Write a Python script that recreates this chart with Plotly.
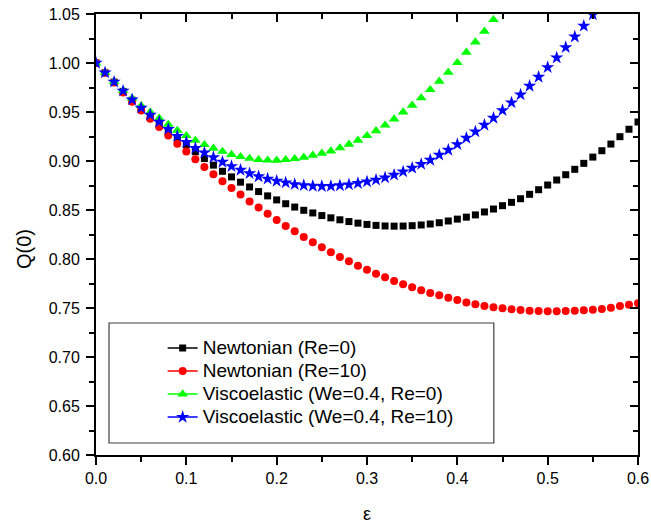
import plotly.graph_objects as go

# Dimensionless parameter epsilon
eps = [0.00, 0.01, 0.02, 0.03, 0.04, 0.05, 0.06, 0.07, 0.08, 0.09,
       0.10, 0.11, 0.12, 0.13, 0.14, 0.15, 0.16, 0.17, 0.18, 0.19,
       0.20, 0.21, 0.22, 0.23, 0.24, 0.25, 0.26, 0.27, 0.28, 0.29,
       0.30, 0.31, 0.32, 0.33, 0.34, 0.35, 0.36, 0.37, 0.38, 0.39,
       0.40, 0.41, 0.42, 0.43, 0.44, 0.45, 0.46, 0.47, 0.48, 0.49,
       0.50, 0.51, 0.52, 0.53, 0.54, 0.55, 0.56, 0.57, 0.58, 0.59,
       0.60]

newt_re0 = [1.000, 0.990, 0.9805, 0.971, 0.962, 0.9535, 0.9455, 0.938, 0.9307, 0.9237,
            0.9166, 0.9095, 0.9025, 0.8958, 0.8895, 0.8838, 0.8784, 0.8735, 0.8688, 0.8644,
            0.8603, 0.8564, 0.853, 0.8497, 0.847, 0.8443, 0.842, 0.840, 0.8382, 0.8366,
            0.8353, 0.8343, 0.8337, 0.8335, 0.8336, 0.834, 0.8347, 0.8357, 0.837, 0.8388,
            0.8407, 0.8427, 0.845, 0.848, 0.851, 0.8544, 0.8578, 0.8615, 0.866, 0.8707,
            0.8755, 0.8806, 0.886, 0.8915, 0.8976, 0.904, 0.9105, 0.9173, 0.9248, 0.9324,
            0.9398]

newt_re10 = [1.000, 0.990, 0.980, 0.970, 0.9605, 0.9515, 0.943, 0.9346, 0.926, 0.9176,
             0.9098, 0.9017, 0.8939, 0.8864, 0.8793, 0.8725, 0.8658, 0.8588, 0.8525, 0.8462,
             0.8398, 0.8337, 0.8282, 0.8224, 0.817, 0.8119, 0.8068, 0.802, 0.7976, 0.7932,
             0.7891, 0.785, 0.7813, 0.7776, 0.7742, 0.7711, 0.768, 0.7653, 0.7629, 0.7605,
             0.7581, 0.7556, 0.7538, 0.752, 0.7507, 0.7497, 0.7487, 0.748, 0.7473, 0.747,
             0.7466, 0.7466, 0.747, 0.7473, 0.7477, 0.7483, 0.749, 0.7503, 0.752, 0.7534,
             0.7548]

visco_re0 = [1.000, 0.9905, 0.981, 0.972, 0.964, 0.9565, 0.950, 0.9435, 0.9373, 0.9312,
             0.9258, 0.921, 0.9166, 0.9129, 0.9098, 0.9066, 0.9044, 0.9026, 0.9014, 0.9008,
             0.9007, 0.9013, 0.9024, 0.9038, 0.9058, 0.9079, 0.9102, 0.9133, 0.917, 0.9211,
             0.9258, 0.9308, 0.9366, 0.9428, 0.950, 0.9568, 0.9643, 0.9728, 0.9813, 0.9905,
             1.0003, 1.0109, 1.0214, 1.0323, 1.0442]

visco_re10 = [1.000, 0.9902, 0.9807, 0.9715, 0.9627, 0.9542, 0.9471, 0.940, 0.9325, 0.9254,
              0.9193, 0.9132, 0.9085, 0.9037, 0.899, 0.8946, 0.8908, 0.8873, 0.8842, 0.8818,
              0.8796, 0.8779, 0.8762, 0.8752, 0.8745, 0.8742, 0.8744, 0.875, 0.8759, 0.8773,
              0.8789, 0.8807, 0.883, 0.8858, 0.8891, 0.8929, 0.8968, 0.901, 0.9062, 0.9112,
              0.917, 0.9235, 0.9299, 0.9367, 0.9439, 0.9517, 0.9595, 0.9677, 0.9765, 0.9857,
              0.9956, 1.0054, 1.016, 1.0268, 1.0378, 1.0493]

series = [
    ("Newtonian (Re=0)", newt_re0, "#000000", "square", 7),
    ("Newtonian (Re=10)", newt_re10, "#FF0000", "circle", 8),
    ("Viscoelastic (We=0.4, Re=0)", visco_re0, "#00FF00", "triangle-up", 9.5),
    ("Viscoelastic (We=0.4, Re=10)", visco_re10, "#0000FF", "star", 10),
]

FONT = "Arial, Liberation Sans, sans-serif"

fig = go.Figure()

for name, vals, color, sym, size in series:
    fig.add_trace(go.Scatter(
        x=eps[:len(vals)], y=vals, mode="markers", name=name,
        marker=dict(symbol=sym, size=size, color=color, line=dict(width=0)),
        showlegend=False,
    ))

# legend entries drawn as line + symbol samples
for name, vals, color, sym, size in series:
    fig.add_trace(go.Scatter(
        x=[None], y=[None], mode="lines+markers",
        name='<span style="font-size:19px">' + name + "</span>",
        line=dict(color=color, width=1.5),
        marker=dict(symbol=sym, size=size, color=color, line=dict(width=0)),
        showlegend=True,
    ))

# carrier trace for the mirrored top/right axes
fig.add_trace(go.Scatter(x=[None], y=[None], xaxis="x2", yaxis="y2",
                         showlegend=False, hoverinfo="skip"))

xr = [0, 0.6]
yr = [0.6, 1.05]
common = dict(showline=True, linewidth=2, linecolor="black", showgrid=False,
              zeroline=False, tickwidth=1.5, tickcolor="black", ticklen=8,
              automargin=False)

fig.update_layout(
    width=651, height=524,
    margin=dict(l=96, r=13, t=14, b=69),
    paper_bgcolor="white", plot_bgcolor="white",
    font=dict(family=FONT, color="black", size=16),
    xaxis=dict(range=xr, dtick=0.1, tick0=0, tickformat=".1f", ticks="outside",
               minor=dict(ticks="outside", ticklen=5, dtick=0.05, tick0=0,
                          tickwidth=1.5, tickcolor="black"),
               tickfont=dict(size=16), **common),
    yaxis=dict(range=yr, dtick=0.05, tick0=0.6, tickformat=".2f", ticks="outside",
               minor=dict(ticks="outside", ticklen=5, dtick=0.025, tick0=0.6,
                          tickwidth=1.5, tickcolor="black"),
               tickfont=dict(size=16), ticklabelstandoff=3, **common),
    xaxis2=dict(range=xr, dtick=0.1, tick0=0, ticks="inside", side="top",
                overlaying="x", anchor="y", showticklabels=False,
                minor=dict(ticks="inside", ticklen=5, dtick=0.05, tick0=0,
                           tickwidth=1.5, tickcolor="black"),
                **common),
    yaxis2=dict(range=yr, dtick=0.05, tick0=0.6, ticks="inside", side="right",
                overlaying="y", anchor="x", showticklabels=False,
                minor=dict(ticks="inside", ticklen=5, dtick=0.025, tick0=0.6,
                           tickwidth=1.5, tickcolor="black"),
                **common),
    legend=dict(x=0.123, y=0.28, xanchor="left", yanchor="top",
                bgcolor="rgba(0,0,0,0)", borderwidth=0,
                font=dict(size=15.4, family=FONT, color="black"),
                tracegroupgap=0, itemsizing="trace"),
    showlegend=True,
)

# legend frame
fig.add_shape(type="rect", xref="paper", yref="paper",
              x0=0.024, x1=0.734, y0=0.0272, y1=0.2993,
              line=dict(color="#404040", width=1.2), fillcolor="rgba(0,0,0,0)",
              layer="above")

# axis titles
fig.add_annotation(text="Q(0)", xref="paper", yref="paper", x=0, y=0.467,
                   xshift=-72, textangle=-90, showarrow=False,
                   font=dict(size=20, family=FONT, color="black"),
                   xanchor="center", yanchor="middle")
fig.add_annotation(text="ε", xref="paper", yref="paper", x=0.5, y=-0.1338,
                   showarrow=False, font=dict(size=18, family=FONT, color="black"),
                   xanchor="center", yanchor="middle")

fig.write_html("out.html")
